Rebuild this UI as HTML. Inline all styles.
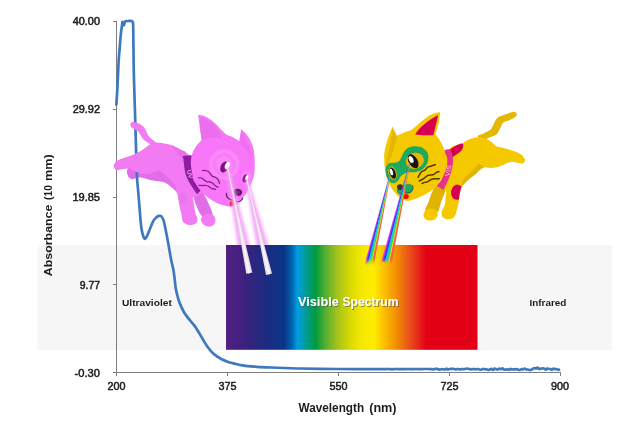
<!DOCTYPE html>
<html lang="en">
<head>
<meta charset="utf-8">
<title>UV-Vis absorbance spectrum</title>
<style>
html,body{margin:0;padding:0;background:#fff;}
body{width:630px;height:446px;overflow:hidden;}
svg{display:block;}
text{font-family:"Liberation Sans",sans-serif;fill:#1d1d1d;}
svg{opacity:0.999;}
.tick{font-size:10.6px;stroke:#1d1d1d;stroke-width:0.5px;}
.b{font-weight:bold;}
</style>
</head>
<body>
<svg width="630" height="446" viewBox="0 0 630 446">
<defs>
<linearGradient id="spec" x1="226" y1="0" x2="477.5" y2="0" gradientUnits="userSpaceOnUse">
<stop offset="0" stop-color="#521f84"/>
<stop offset="0.066" stop-color="#40207f"/>
<stop offset="0.148" stop-color="#1f2a80"/>
<stop offset="0.232" stop-color="#0a3589"/>
<stop offset="0.262" stop-color="#0063b0"/>
<stop offset="0.284" stop-color="#009fe3"/>
<stop offset="0.320" stop-color="#009c8f"/>
<stop offset="0.357" stop-color="#009a3d"/>
<stop offset="0.394" stop-color="#52ae32"/>
<stop offset="0.444" stop-color="#a6c31a"/>
<stop offset="0.501" stop-color="#dedc00"/>
<stop offset="0.542" stop-color="#f5e800"/>
<stop offset="0.587" stop-color="#ffed00"/>
<stop offset="0.624" stop-color="#fdc300"/>
<stop offset="0.674" stop-color="#f39200"/>
<stop offset="0.731" stop-color="#e94e1b"/>
<stop offset="0.797" stop-color="#e20015"/>
<stop offset="1" stop-color="#e20015"/>
</linearGradient>
<filter id="blur2" x="-50%" y="-20%" width="200%" height="140%"><feGaussianBlur stdDeviation="1.8"/></filter>
<filter id="blur05" x="-20%" y="-10%" width="140%" height="120%"><feGaussianBlur stdDeviation="0.7"/></filter>
<filter id="tsh" x="-10%" y="-40%" width="120%" height="200%"><feGaussianBlur in="SourceAlpha" stdDeviation="0.7" result="b"/><feOffset in="b" dx="1" dy="1" result="o"/><feFlood flood-color="#505050" flood-opacity="0.65"/><feComposite in2="o" operator="in" result="s"/><feMerge><feMergeNode in="s"/><feMergeNode in="SourceGraphic"/></feMerge></filter>
<clipPath id="gclip"><rect x="200" y="150" width="100" height="95"/></clipPath>
<linearGradient id="yfade" x1="0" y1="160" x2="0" y2="265" gradientUnits="userSpaceOnUse">
<stop offset="0" stop-color="#999"/><stop offset="0.3" stop-color="#fff"/><stop offset="0.94" stop-color="#fff"/><stop offset="1" stop-color="#000"/>
</linearGradient>
<mask id="ym" maskUnits="userSpaceOnUse" x="350" y="150" width="80" height="130"><rect x="350" y="150" width="80" height="130" fill="url(#yfade)"/></mask>
<linearGradient id="pbeam" x1="0" y1="166" x2="0" y2="208" gradientUnits="userSpaceOnUse"><stop offset="0" stop-color="#e6dfe8" stop-opacity="0.65"/><stop offset="1" stop-color="#e6dfe8" stop-opacity="1"/></linearGradient>
<clipPath id="ybodyclip"><path d="M450,148C453,145.3 458.5,145.1 461.8,143.6C465.1,142.1 467.1,140.1 469.9,139.1C472.7,138.1 475.9,137.2 478.8,137.3C481.7,137.4 484.9,138.4 487.3,139.4C489.7,140.4 491.7,142.2 493.3,143.4C494.9,144.6 495,145.8 496.9,146.6C498.8,147.4 502.1,147.5 504.7,148.2C507.3,148.9 510.3,149.9 512.8,150.8C515.3,151.7 517.7,152.6 519.5,153.6C521.3,154.6 522.6,155.8 523.5,156.9C524.4,158 525.1,159.1 525,160.2C524.9,161.2 524.1,162.7 523,163.2C521.9,163.7 519.9,163.3 518.2,163.1C516.5,162.9 514.6,161.8 512.8,161.8C511,161.8 509.2,162.3 507.4,162.9C505.6,163.5 504,164.8 502,165.6C500,166.4 497.5,167.2 495.3,167.6C493.1,168 490.5,168 488.6,167.8C486.7,167.6 485.4,167.1 483.9,166.4C482.4,165.7 481.8,162.7 479.7,163.6C477.6,164.5 473.8,169.1 471.1,171.7C468.4,174.3 465.2,176.8 463.6,179.2C462,181.6 462.2,183.6 461.6,186C461,188.4 460.2,191.1 459.7,193.8C459.2,196.5 459.1,199.7 458.6,202.3C458.2,204.9 457.5,207.5 457,209.6C456.5,211.7 456.1,213.5 455.4,214.9C454.7,216.3 453.9,217.5 452.6,218.2C451.3,218.9 449.1,219.4 447.5,219.3C445.9,219.2 444.3,218.7 443.3,217.8C442.3,216.9 441.7,215.3 441.6,213.9C441.5,212.5 442.1,211.2 442.6,209.6C443.2,208 444.4,206.5 444.9,204.4C445.4,202.3 445.4,199.3 445.6,197C445.8,194.7 446.6,193.5 446,190.7C445.4,187.9 442.3,185.1 442,180C441.7,174.9 442.7,165.3 444,160C445.3,154.7 447,150.7 450,148Z"/></clipPath>
<radialGradient id="pface" cx="224.1" cy="164.4" r="16.2" gradientUnits="userSpaceOnUse">
<stop offset="0" stop-color="#fb8cfb"/>
<stop offset="0.46" stop-color="#fb88fb"/>
<stop offset="0.56" stop-color="#f97cf9"/>
<stop offset="0.66" stop-color="#f97cf9"/>
<stop offset="0.76" stop-color="#fb8afb"/>
<stop offset="0.90" stop-color="#fb88fb"/>
<stop offset="1" stop-color="#f876f8"/>
</radialGradient>
</defs>

<rect x="0" y="0" width="630" height="446" fill="#ffffff"/>
<!-- background band and spectrum -->
<rect x="37.5" y="245" width="574.2" height="104.8" fill="#f6f6f6"/>
<rect x="226" y="245" width="251.5" height="104.8" fill="url(#spec)"/>

<!-- axes -->
<g stroke="#7f7f7f" stroke-width="1" fill="none" shape-rendering="crispEdges">
<path d="M116.5,21 V372.5 M116.5,372.5 H560.5"/>
<path d="M112.5,21.5 H116.5 M112.5,109.5 H116.5 M112.5,197.5 H116.5 M112.5,284.5 H116.5 M112.5,372.5 H116.5"/>
<path d="M116.5,372.5 V376 M227.5,372.5 V376 M338.5,372.5 V376 M449.5,372.5 V376 M560.5,372.5 V376"/>
</g>

<!-- axis tick labels -->
<g class="tick" text-anchor="end">
<text x="100" y="25.1" textLength="27.3" lengthAdjust="spacingAndGlyphs">40.00</text>
<text x="100" y="113" textLength="27.3" lengthAdjust="spacingAndGlyphs">29.92</text>
<text x="100" y="200.8" textLength="27.6" lengthAdjust="spacingAndGlyphs">19.85</text>
<text x="100" y="288.7" textLength="20.2" lengthAdjust="spacingAndGlyphs">9.77</text>
<text x="100" y="376.5" textLength="25.4" lengthAdjust="spacingAndGlyphs">-0.30</text>
</g>
<g class="tick" text-anchor="middle">
<text x="116.5" y="390.2" textLength="18" lengthAdjust="spacingAndGlyphs">200</text>
<text x="227.5" y="390.2" textLength="18" lengthAdjust="spacingAndGlyphs">375</text>
<text x="338.4" y="390.2" textLength="18" lengthAdjust="spacingAndGlyphs">550</text>
<text x="449.5" y="390.2" textLength="18" lengthAdjust="spacingAndGlyphs">725</text>
<text x="560" y="390.2" textLength="18" lengthAdjust="spacingAndGlyphs">900</text>
</g>
<text class="b" y="411.6" font-size="12.3"><tspan x="298.6" textLength="65.5" lengthAdjust="spacingAndGlyphs">Wavelength</tspan> <tspan x="369.2" textLength="27.4" lengthAdjust="spacingAndGlyphs">(nm)</tspan></text>
<text class="b" transform="translate(52.2,276.2) rotate(-90)" font-size="11.2"><tspan x="0" textLength="71.6" lengthAdjust="spacingAndGlyphs">Absorbance</tspan> <tspan x="76.3" textLength="14.7" lengthAdjust="spacingAndGlyphs">(10</tspan> <tspan x="95.1" textLength="26.7" lengthAdjust="spacingAndGlyphs">mm)</tspan></text>
<text class="b" x="122" y="306.3" font-size="9.5" textLength="49.8" lengthAdjust="spacingAndGlyphs">Ultraviolet</text>
<text class="b" x="529.5" y="306.3" font-size="9.5" textLength="36.8" lengthAdjust="spacingAndGlyphs">Infrared</text>
<text class="b" y="306.4" font-size="12.3" style="fill:#fff" filter="url(#tsh)"><tspan x="298.1" textLength="40.6" lengthAdjust="spacingAndGlyphs">Visible</tspan> <tspan x="342.5" textLength="56" lengthAdjust="spacingAndGlyphs">Spectrum</tspan></text>

<!-- pink cat: far hind leg (behind the curve) -->
<path d="M128.6,167.5C127.6,168.8 127.2,169.8 127,171C126.8,172.2 127,173.4 127.4,174.5C127.8,175.6 128.3,177 129.2,177.8C130.1,178.6 131.4,179.3 132.7,179.3C133.9,179.3 135.3,178.1 136.7,177.8C138.1,177.5 139.4,177.4 141,177.6C142.6,177.8 144,178.2 146,178.7C148,179.2 150.7,180 153.1,180.5C155.5,181 158.2,181.1 160.2,181.5C162.2,181.9 163.5,181.9 165.2,182.7C166.9,183.5 168.7,184.9 170.3,186.2C171.9,187.5 173.6,189 174.8,190.3C176.1,191.7 176.9,192.9 177.8,194.3C178.7,195.8 178.6,199.7 180,199C181.4,198.3 186.8,193.8 186,190C185.2,186.2 181,180.5 175,176C169,171.5 157,165.2 150,163C143,160.8 136.6,162.2 133,163C129.4,163.8 129.6,166.2 128.6,167.5Z" fill="#e26de8"/>

<!-- absorbance curve -->
<path d="M116.3,105.5C116.4,103.2 117.1,93.8 117.4,88C117.7,82.2 118.3,67.9 118.6,62C118.9,56.1 119.7,48.1 120,44C120.3,39.9 120.9,33.4 121.2,31C121.5,28.6 121.7,27.2 121.9,26C122.1,24.8 122.2,22.3 122.4,22C122.6,21.7 123,23.1 123.2,23.5C123.4,23.9 123.8,25.3 124,25.2C124.2,25.1 124.4,23 124.6,22.5C124.8,22 124.9,21.4 125.4,21.2C125.9,21 127.2,21 128,21C128.8,21 131,20.8 131.6,21C132.2,21.2 132.6,21.4 132.8,22.2C133,23 133.1,22 133.2,27C133.3,32 133.5,51.6 133.6,60C133.7,68.4 134,80.7 134.3,90C134.6,99.3 135.2,118.7 135.5,130C135.8,141.3 136.6,167 136.9,175C137.2,183 137.7,185.3 138.1,190C138.5,194.7 139.3,204.9 139.7,210C140.1,215.1 140.8,224.2 141.4,228C142,231.8 143.5,237.2 144.2,238.4C144.9,239.6 145.9,237.9 146.6,236.8C147.3,235.7 148.7,231.9 149.6,229.8C150.5,227.7 152.2,223.1 153.1,221.4C154,219.7 155.4,218.1 156.2,217.4C157,216.7 158.3,215.9 159,215.8C159.7,215.7 160.8,215.8 161.4,216.4C162,217 163,218.6 163.6,220.4C164.2,222.2 165,226.7 165.6,229.6C166.2,232.5 167.3,238.2 168,242C168.7,245.8 170.1,254.1 170.8,258C171.5,261.9 172.9,267 173.6,271C174.3,275 175.2,284.7 175.7,288C176.2,291.3 176.9,293.7 177.4,295.5C177.9,297.3 178.3,299.3 179.1,301.4C179.9,303.5 182.3,309.1 183.6,311.5C184.9,313.9 187.7,317.5 189.2,319.4C190.7,321.3 193.3,324 194.8,326.1C196.3,328.2 198.8,332.4 200.4,335.1C202,337.8 205.3,343.8 207.1,346.3C208.9,348.8 211.9,352.4 213.8,354.1C215.7,355.8 219.7,358.2 221.7,359.3C223.7,360.4 227.1,361.6 229,362.2C230.9,362.8 234,363.5 236,364C238,364.5 241.2,365.2 244,365.6C246.8,366 253.4,366.5 257,366.8C260.6,367.1 265.3,367.3 271,367.5C276.7,367.7 291.1,368.3 300,368.5C308.9,368.7 327.3,368.9 338,369C348.7,369.1 373.9,369.2 380,369.2C386.1,369.2 382.9,369.1 384,369.1C385.1,369.1 386.9,369 388,369C389.1,369 390.9,369.3 392,369.3C393.1,369.3 394.9,369 396,369C397.1,369 398.9,369.2 400,369.2C401.1,369.2 402.9,369.2 404,369.1C405.1,369.1 406.9,369 408,369C409.1,369 410.9,369.2 412,369.2C413.1,369.2 414.9,369 416,369C417.1,369 418.9,369.2 420,369.2C421.1,369.2 422.9,369 424,369C425.1,369 426.9,369 428,369C429.1,369 431.3,369.1 432,369.1C432.7,369.2 433.2,369.6 433.6,369.5C434,369.5 434.8,368.9 435.2,368.8C435.6,368.7 436.4,368.9 436.8,368.9C437.2,369 438,369.2 438.4,369.3C438.8,369.4 439.6,369.7 440,369.6C440.4,369.6 441.2,369.4 441.6,369.3C442,369.2 442.8,369 443.2,369.1C443.6,369.1 444.4,369.7 444.8,369.7C445.2,369.6 446,368.8 446.4,368.7C446.8,368.7 447.6,369.5 448,369.6C448.4,369.6 449.2,369.1 449.6,369C450,368.9 450.8,368.9 451.2,368.8C451.6,368.8 452.4,368.8 452.8,368.8C453.2,368.8 454,368.9 454.4,369C454.8,369.1 455.6,369.5 456,369.5C456.4,369.5 457.2,368.9 457.6,368.9C458,368.8 458.8,369.2 459.2,369.3C459.6,369.3 460.4,369.4 460.8,369.3C461.2,369.3 462,369.1 462.4,369.1C462.8,369.1 463.6,369.3 464,369.2C464.4,369.2 465.2,368.8 465.6,368.8C466,368.7 466.8,368.7 467.2,368.8C467.6,368.8 468.4,368.8 468.8,368.9C469.2,369 470,369.4 470.4,369.4C470.8,369.4 471.6,369.2 472,369.1C472.4,369.1 473.2,369 473.6,369C474,369 474.8,369.3 475.2,369.3C475.6,369.3 476.4,369.2 476.8,369.2C477.2,369.1 478,368.9 478.4,369C478.8,369.1 479.6,369.6 480,369.7C480.4,369.8 481.2,369.7 481.6,369.5C482,369.4 482.8,368.8 483.2,368.8C483.6,368.7 484.4,369.3 484.8,369.3C485.2,369.4 486,369.2 486.4,369.2C486.8,369.3 487.6,369.8 488,369.8C488.4,369.9 489.2,369.7 489.6,369.6C490,369.5 490.8,368.8 491.2,368.8C491.6,368.9 492.4,370.1 492.8,370C493.2,370 494,368.7 494.4,368.6C494.8,368.4 495.6,368.9 496,369.1C496.4,369.2 497.2,369.7 497.6,369.6C498,369.6 498.8,368.7 499.2,368.6C499.6,368.5 500.4,369.2 500.8,369.2C501.2,369.2 502,368.4 502.4,368.4C502.8,368.5 503.6,369.3 504,369.5C504.4,369.7 505.2,369.7 505.6,369.6C506,369.6 506.8,369.3 507.2,369.3C507.6,369.3 508.4,369.9 508.8,369.8C509.2,369.8 510,368.9 510.4,368.9C510.8,368.8 511.6,369.5 512,369.5C512.4,369.6 513.2,369.4 513.6,369.4C514,369.3 514.8,369.4 515.2,369.3C515.6,369.3 516.4,369.1 516.8,369.1C517.2,369.2 518,369.7 518.4,369.8C518.8,369.9 519.6,370 520,370C520.4,369.9 521.2,369.2 521.6,369.2C522,369.1 522.8,369.6 523.2,369.5C523.6,369.4 524.4,368.4 524.8,368.5C525.2,368.5 526,369.4 526.4,369.5C526.8,369.7 527.6,369.4 528,369.5C528.4,369.5 529.2,370 529.6,370C530,370.1 530.8,369.9 531.2,369.7C531.6,369.6 532.4,369.1 532.8,368.8C533.2,368.6 534,368.1 534.4,368.1C534.8,368.1 535.6,368.7 536,368.6C536.4,368.5 537.2,367.4 537.6,367.5C538,367.6 538.8,369 539.2,369.1C539.6,369.3 540.4,368.7 540.8,368.6C541.2,368.6 542,368.6 542.4,368.5C542.8,368.5 543.6,368.3 544,368.5C544.4,368.6 545.2,369.6 545.6,369.7C546,369.7 546.8,368.7 547.2,368.6C547.6,368.5 548.4,368.7 548.8,368.8C549.2,368.8 550,368.9 550.4,369C550.8,369.2 551.6,369.9 552,369.8C552.4,369.8 553.2,368.6 553.6,368.5C554,368.4 554.8,369 555.2,369.1C555.6,369.2 556.4,369.2 556.8,369.3C557.2,369.4 558,369.9 558.4,369.9C558.8,369.8 559.8,369.3 560,369.2" fill="none" stroke="#3e79be" stroke-width="2.7" stroke-linejoin="round" stroke-linecap="butt"/>

<!-- pink (UV) cat -->
<g>
<path d="M193,188C191.7,189.4 193.2,193.9 193.6,196.6C194,199.3 194.8,201.5 195.7,204C196.6,206.5 197.9,209.5 198.9,211.4C199.9,213.3 200.5,214 201.5,215.6C202.5,217.2 203.2,220.8 205,221C206.8,221.2 211.4,218.9 212.4,217C213.4,215.1 211.8,211.8 211,209.3C210.2,206.8 209.1,204.6 207.9,201.9C206.7,199.2 204.7,195.7 203.6,193.4C202.5,191.1 203.3,188.9 201.5,188C199.7,187.1 194.3,186.6 193,188Z" fill="#e26de8"/>
<path d="M201,218.8C200.7,220 201.4,221.5 202,222.6C202.6,223.7 203.4,224.5 204.6,225.2C205.8,225.9 207.4,226.6 208.9,226.6C210.4,226.6 212.3,226.1 213.4,225C214.5,223.9 215.5,221.4 215.5,219.8C215.5,218.2 214.8,216.4 213.6,215.4C212.4,214.4 210.1,213.8 208.4,213.8C206.7,213.8 204.8,214.4 203.6,215.2C202.4,216 201.3,217.6 201,218.8Z" fill="#f27af3"/>
<path d="M130.3,124.5C130.3,123.7 130.9,122.9 131.4,122.4C131.9,121.9 132.2,121.5 133.4,121.7C134.6,121.9 137.1,122.7 138.8,123.5C140.5,124.3 142.2,125.5 143.5,126.8C144.8,128.1 145.5,129.9 146.4,131.5C147.3,133.1 147.6,134.8 148.7,136.2C149.8,137.6 151.7,138.9 153,140C154.3,141.1 155.1,142 156.5,142.5C157.9,143 159.2,142.6 161.4,142.9C163.7,143.2 167.3,143.8 170,144.6C172.7,145.4 175.1,146.6 177.8,148C180.6,149.4 184,151.7 186.5,153.2C189,154.7 190.1,154.9 193,157C195.9,159.1 202,161.3 204,166C206,170.7 206,180 205,185C204,190 200.2,194 198,196C195.8,198 194.2,197 192,197C189.8,197 187.4,196.9 185,196C182.6,195.1 179.4,193.1 177.8,191.5C176.2,189.9 176.4,187.9 175.3,186.2C174.2,184.5 172.8,182.9 171.3,181.2C169.8,179.5 167.8,177.6 166.2,176.1C164.6,174.6 163,173.1 161.7,172.1C160.4,171.1 159.6,170.2 158.2,170.3C156.8,170.4 154.8,172 153.1,172.6C151.4,173.2 150.1,173.9 148.1,174.1C146.1,174.2 143.6,174 141.3,173.5C139,173 136.3,171.8 134.2,171C132.1,170.2 130.8,168.8 128.6,168.6C126.4,168.4 123.1,169.4 121,169.6C118.9,169.8 117.1,170.3 115.9,169.7C114.7,169.1 113.7,167.2 113.6,166C113.5,164.8 114.5,163.4 115.2,162.4C116,161.4 116.5,161 118.1,160.2C119.7,159.4 122.8,158.3 125,157.5C127.2,156.7 129.3,156.2 131.3,155.5C133.3,154.8 135,154 136.9,153.1C138.8,152.2 141,150.8 142.6,149.8C144.2,148.8 145.2,147.9 146.4,147C147.7,146.1 148.9,145.2 150.1,144.3C149.5,143.8 149.2,143.5 148.2,142.8C147.2,142.1 145.2,141.1 144,140C142.8,138.9 142.1,137.6 141.2,136.2C140.3,134.8 139.6,132.9 138.4,131.7C137.2,130.5 135.3,129.9 134.1,129.1C132.9,128.3 131.8,127.8 131.2,127C130.6,126.2 130.3,125.3 130.3,124.5Z" fill="#f27af3"/>
<path d="M176.7,187C174.2,188.4 177.4,192.3 177.8,195.5C178.2,198.7 178.8,202.9 179.4,206.1C180,209.3 181.1,212.4 181.5,214.5C181.9,216.6 181.7,217.5 182,218.8C182.3,220.1 182.4,221.4 183.6,222.4C184.8,223.4 187.1,224.7 188.9,225C190.8,225.3 193.3,224.7 194.7,224C196.1,223.3 196.9,222 197.3,220.9C197.7,219.8 197.6,218.8 197.3,217.7C197,216.6 196.1,216 195.7,214.6C195.3,213.2 195,211.2 194.7,209.3C194.3,207.4 193.9,205 193.6,202.9C193.2,200.8 192.8,199.2 192.6,196.6C192.4,193.9 195.2,188.6 192.6,187C189.9,185.4 179.2,185.6 176.7,187Z" fill="#f27af3"/>
<path d="M172,146.2C172.3,145.5 177.6,148.4 180,149.6C182.4,150.8 185.5,150.7 186.5,153.4C187.5,156.1 186.7,164.8 186,166C185.3,167.2 183.8,162.6 182.5,160.5C181.2,158.4 179.8,155.9 178,153.5C176.2,151.1 171.7,146.8 172,146.2Z" fill="#e86fec"/>
<ellipse cx="183.0" cy="198.0" rx="4.4" ry="6.6" fill="#ea75ee" transform="rotate(-12 183 198)"/>
<path d="M183.5,156C181.4,156.3 183.5,157.7 183.6,159C183.7,160.3 183.6,161.5 183.9,164C184.2,166.5 184.9,171.3 185.6,174C186.3,176.7 187.1,178.1 188,180C188.9,181.9 190.2,183.9 191.2,185.6C192.2,187.3 193,188.7 194,190.1C195,191.5 196.1,192.8 197.1,194.2C198.4,193 199.6,191.8 200.9,190.6C201.9,188.4 204.2,187.4 204,184C203.8,180.6 201.3,174.5 200,170C198.7,165.5 198.8,159.3 196,157C193.2,154.7 185.6,155.7 183.5,156Z" fill="#8e1c9c"/>
<text transform="translate(186.8,170.4) rotate(76)" font-size="6" style="fill:#dba6e2;font-weight:bold" textLength="8.8" lengthAdjust="spacingAndGlyphs">UV</text>
<path d="M198,114.7C200,115.1 202,115.2 204.1,116C206.2,116.8 208.5,118.2 210.7,119.8C212.9,121.4 215.4,123.6 217.3,125.4C219.2,127.2 220.4,129 222,130.6C223.6,132.2 225.1,133.8 226.7,134.8C228.3,135.8 229.3,135.6 231.4,136.6C233.5,137.6 236.6,139.5 239.2,141C239.9,137 240.5,133 241.2,129C243.3,131.3 245.8,133.2 247.6,135.8C249.4,138.4 251.1,141.7 252.2,144.6C253.3,147.5 253.8,150.2 254.2,153.3C254.6,156.4 254.8,160.1 254.8,163.2C254.8,166.3 254.7,169.4 254.4,172C254.1,174.6 254.2,175.3 253,178.7C251.8,182 249.5,188.2 247.1,192.1C244.7,196 241,199.9 238.7,202.2C236.4,204.5 235.2,205.1 233.5,205.8C231.8,206.5 231.5,207.1 228.7,206.6C225.9,206.1 220.9,204.9 216.9,203C212.9,201.1 207.3,197 204.6,195C201.9,193 202,192.6 200.6,190.8C199.2,189.1 197.4,186.3 196.2,184.5C195,182.7 194.1,181.8 193.4,180C192.7,178.2 192.6,176.1 192.2,174C191.8,171.9 191.4,169.8 191.2,167.5C191,165.2 190.7,162.3 190.9,160C191.1,157.7 191.5,155.7 192.3,153.5C193.1,151.3 194.1,149.2 195.6,147C197.1,144.8 199.6,142.3 201.6,140C201,135.6 200.3,131 199.7,126.8C199.1,122.6 198.6,118.7 198,114.7Z" fill="#f876f8"/>
<path d="M200.4,117.4C202.3,118 204,118.2 206,119.3C208,120.4 210.6,122.1 212.6,124C214.6,125.9 216.5,128.2 218.2,130.6C219.8,133 221.1,135.8 222.5,138.4C219.5,138.1 216.4,137.3 213.5,137.4C210.6,137.5 207,138.4 205.1,139C203.2,139.6 203.2,140.2 202.3,140.8C202,139.3 201.7,138.7 201.3,136.2C200.9,133.7 200.2,129.1 200,126C199.8,122.9 200.3,120.3 200.4,117.4Z" fill="#ea6eee"/>
<path d="M241.4,131.2C242.8,133.7 244.3,136 245.6,138.6C246.9,141.2 248.3,143.5 249.2,146.6C250.1,149.7 250.4,153.5 251,157C248.9,154 246.5,150.6 244.6,148C242.7,145.4 241.4,143.7 239.8,141.5C240.3,138.1 240.9,134.6 241.4,131.2Z" fill="#ee70f0"/>
<circle cx="224.1" cy="164.4" r="16.2" fill="url(#pface)"/>
<ellipse cx="246.2" cy="177.6" rx="5.4" ry="7.2" fill="#fa84fa" transform="rotate(18 246.2 177.6)"/>
<!-- eyes -->
<ellipse cx="224.4" cy="167.0" rx="3.8" ry="5.8" fill="#7a1282" transform="rotate(24 224.4 167.0)"/>
<ellipse cx="227.3" cy="165.5" rx="2.2" ry="3.8" fill="#ffffff" transform="rotate(24 227.3 165.5)"/>
<ellipse cx="245.2" cy="178.4" rx="2.4" ry="4.2" fill="#8a1a92" transform="rotate(20 245.3 178.3)"/>
<ellipse cx="246.9" cy="177.5" rx="1.4" ry="2.9" fill="#ffffff" transform="rotate(20 246.9 177.4)"/>
<!-- whiskers -->
<g fill="none" stroke="#7d2282" stroke-width="1.25" stroke-linecap="round">
<path d="M202.5,170.6C203,170.6 204.5,170.3 205.5,170.5C206.5,170.7 207.5,170.9 208.3,171.5C209.1,172.1 209.8,173.2 210.5,174C211.2,174.8 211.5,175.6 212.3,176.2C213.1,176.8 214.6,176.8 215.5,177.3C216.4,177.8 217.3,178.4 218,179.4C218.7,180.4 219.2,182.7 219.5,183.4"/><path d="M198.7,177.8C199.2,177.8 200.6,177.7 201.5,178C202.4,178.3 203.2,179.2 204,179.8C204.8,180.4 205.6,181.2 206.6,181.6C207.6,181.9 208.7,181.6 209.8,181.9C210.9,182.2 212.1,182.7 213,183.4C213.9,184.1 214.7,185.2 215.5,185.9C216.3,186.6 217.6,187.1 218,187.3"/><path d="M199,185.4C199.6,185.4 201.4,185.5 202.6,185.5C203.8,185.5 205.1,185.3 206.2,185.5C207.3,185.7 208.1,186.1 209.1,186.6C210.1,187.1 210.8,188.2 211.9,188.7C213,189.1 214.9,189.2 215.5,189.3"/>
</g>
<!-- nose & mouth -->
<ellipse cx="238.0" cy="192.3" rx="4.1" ry="3.4" fill="#5f1664" transform="rotate(18 238 192.3)"/>
<ellipse cx="238.4" cy="192.2" rx="1.8" ry="1.3" fill="#7d2a84" transform="rotate(18 238.4 192.2)"/>
<path d="M226.4,193.3 C226.2,196.6 227.6,199.0 231.6,199.9 M235.9,195.0 C234.6,197.2 234.6,199.6 235.3,200.9 C236.6,202.4 239.4,202.2 241.0,200.6 C241.8,199.8 242.4,199.0 242.8,198.2" fill="none" stroke="#5f1664" stroke-width="1.15" stroke-linecap="round"/>
<path d="M232.8,199.5 C234.0,201.4 234.3,204.8 232.4,205.9 C230.5,206.6 229.3,204.7 229.9,202.6 C230.5,201.0 231.6,200.1 232.8,199.5 Z" fill="#f50000"/>
<!-- UV beams -->
<g clip-path="url(#gclip)"><g filter="url(#blur2)" opacity="0.9">
<path d="M226.2,167.8L229,167.2L252.3,255L239.4,257.6Z" fill="#f7a0f7"/><path d="M245.5,179.8L248.3,179.2L271.4,255.7L258.6,258.7Z" fill="#f7a0f7"/>
</g></g>
<path d="M227.1,167.6L228.1,167.4L237.3,209.6L252.3,272.6L246.3,273.8L235.3,210Z" fill="url(#pbeam)"/><path d="M246.4,179.6L247.4,179.4L256.7,217.2L272,273.5L266,274.9L254.8,217.6Z" fill="url(#pbeam)"/>
<path d="M227.4,167.5L227.8,167.5L236.7,209.7L250.5,273L248.1,273.4L235.9,209.9Z" fill="#f8f4f8"/><path d="M246.7,179.5L247.1,179.5L256.1,217.3L270.2,273.9L267.8,274.5L255.4,217.5Z" fill="#f8f4f8"/>
</g>

<!-- yellow (VIS) cat -->
<g>
<path d="M477.6,136.4C477.6,135 481.8,134.3 484,133.2C486.2,132.1 489,131.1 490.6,129.6C492.2,128.1 492.5,126.3 493.6,124.4C494.7,122.5 495.5,119.6 497.2,118C498.9,116.4 501.2,116 503.8,115C506.4,114 510.6,112.3 512.6,111.9C514.6,111.5 515.2,111.9 515.8,112.6C516.4,113.3 517.4,114.7 516.4,115.9C515.4,117.2 511.8,119 509.6,120.1C507.4,121.2 504.7,121.3 503.1,122.7C501.5,124.1 501.2,126.6 500.1,128.6C499,130.5 498.4,132.8 496.4,134.4C494.4,136 490.3,136.9 488.2,138.1C486.1,139.3 485.8,141.8 484,141.5C482.2,141.2 477.6,137.8 477.6,136.4Z" fill="#e4b700"/>
<path d="M438,183.5C436.1,184.9 433.9,188.2 432.3,191.4C430.7,194.6 429.6,199.2 428.4,202.4C427.2,205.6 424.9,208 425.2,210.3C425.5,212.6 427.9,215.8 430,216C432.1,216.2 436,214.1 437.8,211.8C439.6,209.5 439.6,206 440.9,202.4C442.2,198.8 445,193.2 445.5,190C446,186.8 445.2,184.1 444,183C442.8,181.9 439.9,182.1 438,183.5Z" fill="#dfb300"/>
<path d="M423.4,215.6C423.4,217.1 424.6,218.4 425.6,219.2C426.6,220 427.9,220.6 429.5,220.6C431.1,220.6 433.6,220.1 435,219.2C436.4,218.3 437.6,216.4 437.8,215C438,213.6 437.5,211.7 436.4,210.6C435.3,209.5 432.8,208.6 431,208.6C429.2,208.6 426.9,209.2 425.6,210.4C424.3,211.6 423.4,214.1 423.4,215.6Z" fill="#f5c900"/>
<path d="M479.5,163.2C481.5,163.6 483.1,165.7 483.9,166.4C484.7,167.1 485.1,167.1 484.5,167.6C483.9,168.1 482.1,168.2 480.5,169.4C478.9,170.6 477.2,172.8 475.2,174.6C473.2,176.4 470.4,178.2 468.4,180C466.4,181.8 464.4,183.8 463.1,185.3C461.8,186.8 461.5,189.6 460.6,189C459.8,188.4 457.6,184.8 458,182C458.4,179.2 460.7,175 463,172C465.3,169 469.2,165.5 472,164C474.8,162.5 477.5,162.8 479.5,163.2Z" fill="#dfb300"/>
<path d="M450,148C453,145.3 458.5,145.1 461.8,143.6C465.1,142.1 467.1,140.1 469.9,139.1C472.7,138.1 475.9,137.2 478.8,137.3C481.7,137.4 484.9,138.4 487.3,139.4C489.7,140.4 491.7,142.2 493.3,143.4C494.9,144.6 495,145.8 496.9,146.6C498.8,147.4 502.1,147.5 504.7,148.2C507.3,148.9 510.3,149.9 512.8,150.8C515.3,151.7 517.7,152.6 519.5,153.6C521.3,154.6 522.6,155.8 523.5,156.9C524.4,158 525.1,159.1 525,160.2C524.9,161.2 524.1,162.7 523,163.2C521.9,163.7 519.9,163.3 518.2,163.1C516.5,162.9 514.6,161.8 512.8,161.8C511,161.8 509.2,162.3 507.4,162.9C505.6,163.5 504,164.8 502,165.6C500,166.4 497.5,167.2 495.3,167.6C493.1,168 490.5,168 488.6,167.8C486.7,167.6 485.4,167.1 483.9,166.4C482.4,165.7 481.8,162.7 479.7,163.6C477.6,164.5 473.8,169.1 471.1,171.7C468.4,174.3 465.2,176.8 463.6,179.2C462,181.6 462.2,183.6 461.6,186C461,188.4 460.2,191.1 459.7,193.8C459.2,196.5 459.1,199.7 458.6,202.3C458.2,204.9 457.5,207.5 457,209.6C456.5,211.7 456.1,213.5 455.4,214.9C454.7,216.3 453.9,217.5 452.6,218.2C451.3,218.9 449.1,219.4 447.5,219.3C445.9,219.2 444.3,218.7 443.3,217.8C442.3,216.9 441.7,215.3 441.6,213.9C441.5,212.5 442.1,211.2 442.6,209.6C443.2,208 444.4,206.5 444.9,204.4C445.4,202.3 445.4,199.3 445.6,197C445.8,194.7 446.6,193.5 446,190.7C445.4,187.9 442.3,185.1 442,180C441.7,174.9 442.7,165.3 444,160C445.3,154.7 447,150.7 450,148Z" fill="#f5c900"/>
<g clip-path="url(#ybodyclip)"><ellipse cx="457.2" cy="192.2" rx="6.2" ry="7.6" fill="#d6004e" transform="rotate(8 457.2 192.2)"/></g>
<path d="M449,151C449.5,149.2 452.9,147.5 455,146.2C457.1,144.9 460.4,143.3 461.8,143.4C463.2,143.5 463.3,145.2 463.2,146.5C463.1,147.8 462.2,149.6 461,151C459.8,152.4 457.5,153.8 456,154.8C454.5,155.8 453.2,157.6 452,157C450.8,156.4 448.5,152.8 449,151Z" fill="#d6004e"/>
<path d="M443,151.5C442.6,152.7 446.4,154.3 447,157C447.6,159.7 447.3,164.2 446.5,167.8C445.7,171.4 443.6,175.5 442,178.5C440.4,181.5 438.7,183.4 437,185.9C439.1,187.2 441.2,188.6 443.3,189.9C444.9,186.7 446.6,183.8 448,180.4C449.4,177 451.1,173.1 451.9,169.4C452.7,165.7 453.3,161.3 452.9,158C452.5,154.7 451.2,150.7 449.6,149.6C448,148.5 443.4,150.3 443,151.5Z" fill="#e7318b"/>
<text transform="translate(448.9,176.8) rotate(-76)" font-size="6.2" style="fill:#fbd6e6" textLength="11.5" lengthAdjust="spacingAndGlyphs">VIS</text>
<path d="M392.5,126.6C393.9,129.7 395.4,132.7 396.8,135.8C399.2,134.7 401.7,133.4 404.1,132.4C406.5,131.4 408.8,131.2 411,130C413.2,128.8 415.1,126.9 417.1,125.2C419.1,123.5 421.2,121.7 423.2,120.1C425.2,118.5 427.2,116.9 429.2,115.7C431.2,114.5 433.5,113.6 435.3,113C437.1,112.4 438.6,112.3 440.2,112C439.8,115 439.7,118 439.1,121C438.6,124 437.5,127.6 436.9,129.8C436.3,132 435.9,132.8 435.4,134.3C437.1,136.7 439.1,139.1 440.5,141.4C441.9,143.8 442.9,145.3 443.9,148.4C444.9,151.5 446.4,156 446.4,160.2C446.4,164.4 445.3,169.6 443.9,173.6C442.5,177.6 439.8,181.4 438,184C436.2,186.6 435.6,187.1 433.3,188.9C431,190.7 427.7,193 424.4,194.8C421.1,196.6 416.4,198.6 413.3,199.6C410.2,200.6 408.4,201.4 405.6,200.6C402.8,199.8 399.4,197.6 396.7,194.8C394,192 391.2,188 389.3,183.9C387.4,179.8 386,174.8 385.1,170.3C384.2,165.8 384.3,160 384.2,156.8C384.1,153.6 384.3,153.3 384.7,151C385.1,148.7 385.8,145.7 386.6,142.9C387.4,140.1 388.6,136.8 389.6,134.1C390.6,131.4 391.5,129.1 392.5,126.6Z" fill="#f5c900"/>
<path d="M392.4,128.2C393.9,130.9 395.4,133.5 396.9,136.2C396.6,138.2 396.4,140.2 395.9,142.3C395.4,144.4 394.9,146.1 394,148.7C393.1,151.2 391.9,154.8 390.8,157.6C389.7,160.4 388.5,163.4 387.6,165.3C386.7,167.2 386.2,167.8 385.5,169C385.6,167.3 385.4,166.1 385.8,164C386.2,161.9 386.9,159.3 387.6,156.3C388.3,153.3 389.2,149.3 389.8,146.1C390.4,142.9 390.8,140.2 391.2,137.2C391.6,134.2 392,131.2 392.4,128.2Z" fill="#e3b800"/>
<path d="M438.1,115.1C435.8,116.4 433.5,117.6 431.2,119.1C428.9,120.6 426.4,122.4 424.2,124.2C422,126 419.6,128.5 418.1,130.2C416.6,131.9 416.1,133 415.1,134.4C418.1,134.7 421,135.1 424,135.2C427,135.3 430.2,135.2 433.3,135.2C434,132.5 434.6,129.9 435.3,127.2C436,124.5 436.8,121.1 437.3,119.1C437.8,117.1 437.8,116.4 438.1,115.1Z" fill="#d6004e"/>
<!-- mask -->
<path d="M405.2,150.2C406.3,149 407.9,148 409.5,147.3C411.1,146.7 413.1,146.4 415,146.3C416.9,146.2 419.1,146.5 420.7,147C422.3,147.5 423.7,148.4 424.9,149.4C426.1,150.4 427.1,151.7 427.7,153C428.3,154.3 428.4,155.8 428.4,157.5C428.3,159.2 428.1,161.2 427.4,163C426.7,164.8 425.3,166.7 424,168C422.7,169.3 421.1,170.3 419.5,171C417.9,171.7 416.1,172.1 414.3,172.3C412.5,172.5 410.2,172.2 408.5,172.4C406.8,172.7 405.4,173.1 404.1,173.8C402.8,174.5 401.5,175.4 400.6,176.4C399.7,177.4 399.5,178.9 398.6,180C397.7,181.1 396.2,182.5 395,183C393.8,183.5 392.3,183.3 391.2,182.8C390.1,182.3 389.2,181.3 388.4,180.2C387.6,179.1 386.8,177.6 386.3,176C385.8,174.4 385.6,172.4 385.6,170.8C385.7,169.2 385.9,167.6 386.6,166.3C387.3,165 388.2,163.7 389.8,163.1C391.4,162.5 394.4,163 396,162.6C397.6,162.2 398.6,161.7 399.7,160.4C400.8,159.1 401.7,156.3 402.6,154.6C403.5,152.9 404.1,151.4 405.2,150.2Z" fill="#1fa95f"/>
<ellipse cx="414.9" cy="160.8" rx="9.2" ry="7.9" fill="#e6b600" transform="rotate(-20 414.9 160.8)"/>
<ellipse cx="392.5" cy="173.1" rx="4.0" ry="6.9" fill="#e6b600" transform="rotate(-16 392.5 173.1)"/>
<ellipse cx="413.1" cy="161.3" rx="4.4" ry="7.6" fill="#151515" transform="rotate(-30 413.1 161.3)"/>
<ellipse cx="410.8" cy="159.6" rx="2.1" ry="3.7" fill="#ffffff" transform="rotate(-25 410.7 158.9)"/>
<ellipse cx="392.6" cy="173.1" rx="3.0" ry="5.9" fill="#151515" transform="rotate(-20 392.6 173.1)"/>
<ellipse cx="391.2" cy="171.9" rx="1.5" ry="3.5" fill="#ffffff" transform="rotate(-18 391.5 171.4)"/>
<!-- whiskers -->
<g fill="none" stroke="#4a3a06" stroke-width="1.5" stroke-linecap="round">
<path d="M418.1,177.4C418.5,176.7 419.6,174.4 420.2,173.4C420.8,172.4 421.2,171.8 422,171.3C422.8,170.8 424,170.9 424.9,170.2C425.8,169.5 426.4,168 427.4,167.3C428.4,166.6 429.4,166.6 430.7,166.2C432,165.8 434.5,165 435.3,164.8"/><path d="M419.2,181C419.8,180.7 421.7,179.9 422.8,179.2C423.9,178.5 424.7,177.7 425.6,177C426.6,176.3 427.3,175.5 428.5,175.2C429.7,174.8 431.5,175.4 432.8,174.9C434.1,174.4 435.4,172.9 436.4,172.3C437.4,171.8 438.5,171.7 438.9,171.6"/><path d="M422,183.5C422.5,183.3 423.9,182.7 424.9,182.4C425.9,182.1 426.8,182.2 427.8,181.7C428.8,181.2 429.8,180 431,179.5C432.2,179 433.6,178.9 435,178.8C436.4,178.7 438.6,178.8 439.3,178.8"/>
</g>
<!-- muzzle, nose, tongue -->
<path d="M396.7,189.4 C396.5,192.4 398.6,194.6 401.4,194.8 C403.2,194.8 404.4,194.2 405.2,193.0 C409,194.4 413.0,192.2 413.0,188.4 C413.0,185.2 410.6,183.6 408.0,183.7 C405.6,183.8 404.2,185.2 403.4,187.2 Z" fill="#1fa95f"/>
<path d="M405.4,192.9 C408.6,193.9 412.2,192.2 412.9,188.4 C413.1,187.2 412.9,186.2 412.5,185.4" fill="none" stroke="#245238" stroke-width="0.9" stroke-linecap="round"/>
<ellipse cx="400.1" cy="187.1" rx="3.1" ry="2.9" fill="#3c2f3e" transform="rotate(-10 400.1 187.1)"/>
<ellipse cx="405.9" cy="196.6" rx="2.9" ry="2.5" fill="#ff0000"/>
<!-- rainbow beams -->
<g mask="url(#ym)"><g filter="url(#blur05)"><path d="M389.6,174.4L389.8,174.4L366.2,264.9L364.5,264.5Z" fill="#e23ce8"/><path d="M389.7,174.4L390.1,174.5L368,265.3L365.7,264.7Z" fill="#3c34f2"/><path d="M390,174.4L390.3,174.5L369.5,265.6L367.5,265.1Z" fill="#08c4f2"/><path d="M390.2,174.5L390.5,174.6L371.1,266L369,265.5Z" fill="#34dc4c"/><path d="M390.4,174.6L390.6,174.6L372,266.2L370.5,265.9Z" fill="#d8e628"/><path d="M390.5,174.6L390.8,174.6L373.5,266.5L371.4,266.1Z" fill="#ff5c48"/><path d="M409.3,162.4L409.5,162.4L383.4,261.8L381.4,261.3Z" fill="#e23ce8"/><path d="M409.5,162.4L409.8,162.5L385.4,262.2L382.8,261.6Z" fill="#3c34f2"/><path d="M409.7,162.5L410,162.5L387.1,262.6L384.8,262.1Z" fill="#08c4f2"/><path d="M409.9,162.5L410.2,162.6L388.8,263L386.5,262.5Z" fill="#34dc4c"/><path d="M410.1,162.5L410.3,162.6L389.8,263.3L388.2,262.9Z" fill="#d8e628"/><path d="M410.2,162.6L410.5,162.6L391.6,263.7L389.2,263.1Z" fill="#ff5c48"/></g></g>
</g>
</svg>
</body>
</html>
